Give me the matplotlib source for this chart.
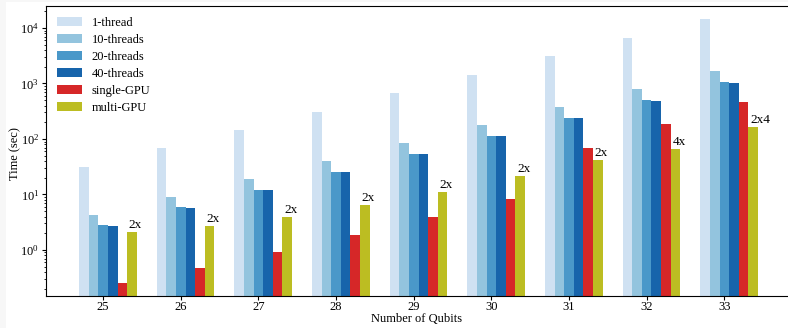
import matplotlib
matplotlib.use('Agg')
import matplotlib.pyplot as plt
from matplotlib.patches import Rectangle
import numpy as np

plt.rcParams['font.family'] = ['Liberation Serif', 'DejaVu Serif']
plt.rcParams['mathtext.fontset'] = 'stix'
plt.rcParams['font.size'] = 9

qubits = [25, 26, 27, 28, 29, 30, 31, 32, 33]
t_1thread = [31, 69, 145, 309, 676, 1420, 3130, 6600, 14500]
t_10threads = [4.3, 9.0, 19, 40, 85, 178, 377, 796, 1680]
t_20threads = [2.8, 5.95, 12, 25.4, 53.7, 113, 239, 504, 1066]
t_40threads = [2.7, 5.7, 12, 25.4, 53.7, 113, 239, 484, 1025]
t_single_gpu = [0.254, 0.474, 0.92, 1.86, 3.93, 8.3, 69, 186, 464]
t_multi_gpu = [2.14, 2.7, 3.93, 6.5, 11.1, 21.5, 42, 66, 164]
gpu_labels = ['2x', '2x', '2x', '2x', '2x', '2x', '2x', '4x', '2x4']

series = [('1-thread', t_1thread, '#cfe1f2'),
          ('10-threads', t_10threads, '#93c4de'),
          ('20-threads', t_20threads, '#4a98c9'),
          ('40-threads', t_40threads, '#1764ab'),
          ('single-GPU', t_single_gpu, '#d62728'),
          ('multi-GPU', t_multi_gpu, '#bcbd22')]

fig = plt.figure(figsize=(7.88, 3.28), dpi=100, facecolor='#f7f7f7')
# white page area (the screenshot has a thin grey edge at top and left)
fig.patches.append(Rectangle((6 / 788, 0), 1, 1 - 2 / 328, transform=fig.transFigure,
                             facecolor='white', edgecolor='none', zorder=-1))
ax = fig.add_axes([0.0584, 0.0976, 0.9416, 0.8841])

x = np.array(qubits, dtype=float)
w = 0.124
for k, (name, vals, col) in enumerate(series):
    ax.bar(x + (k - 2) * w, vals, width=w, color=col, label=name)

# speedup labels above the multi-GPU bars
for xi, v, lab in zip(x, t_multi_gpu, gpu_labels):
    ax.text(xi + 3 * w - 0.04, v * 1.04, lab, ha='left', va='bottom', fontsize=9.5)

ax.set_yscale('log')
ax.set_ylim(0.148, 24900)
ax.set_xlim(24.265, 33.82)
ax.set_xticks(qubits)
ax.tick_params(which='major', length=3, pad=2)
ax.tick_params(axis='x', which='major', pad=0.5)
ax.tick_params(which='minor', length=1.5)
ax.set_xlabel('Number of Qubits', labelpad=0)
ax.set_ylabel('Time (sec)')
ax.yaxis.set_label_coords(-0.0335, 0.49)
ax.spines['right'].set_visible(False)

ax.legend(loc='upper left', frameon=False, handlelength=2.0, handleheight=0.75,
          handletextpad=0.75, labelspacing=0.4, borderaxespad=0.5,
          bbox_to_anchor=(0.0, 1.0))

fig.savefig('out.png', dpi=100, facecolor=fig.get_facecolor())
